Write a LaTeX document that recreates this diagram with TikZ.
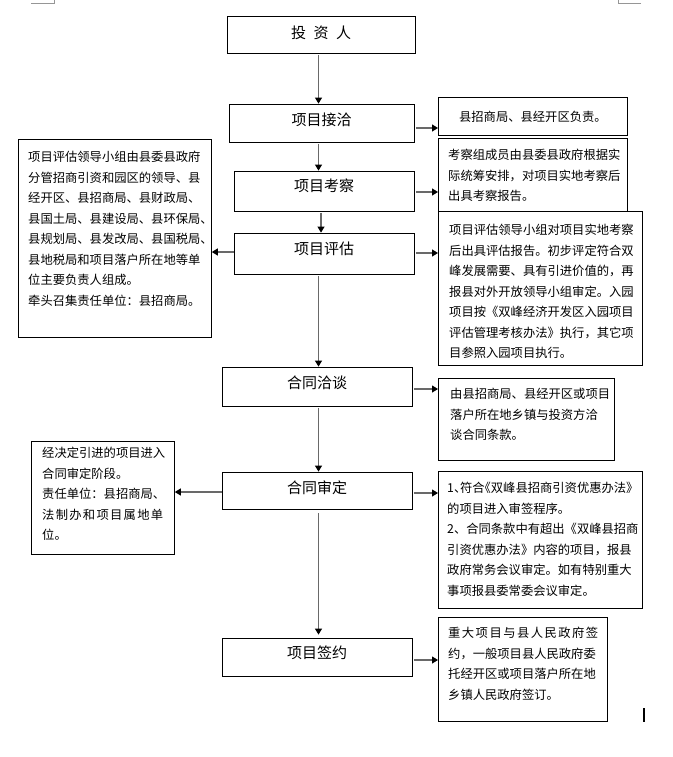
\documentclass[tikz,border=0pt]{standalone}
\usepackage{fontspec}
\setmainfont{Noto Sans CJK SC}
\usetikzlibrary{arrows.meta}
\definecolor{lgray}{RGB}{105,105,105}
\definecolor{mgray}{RGB}{150,150,150}
\begin{document}
\begin{tikzpicture}[x=1pt,y=-1pt,
  mainbox/.style={draw=black, line width=0.8pt, inner sep=0pt},
  maintext/.style={inner sep=0pt, font=\fontsize{15}{18}\selectfont},
  sidebox/.style={draw=black, line width=0.8pt, inner sep=0pt, anchor=north west},
  sidetext/.style={anchor=north west, inner sep=0pt, align=left, font=\fontsize{12.3}{20.5}\selectfont},
  arr/.style={draw=lgray, line width=1.1pt, shorten <=1.5pt, -{Triangle[length=6pt,width=7pt,color=black]}}
]
\useasboundingbox (0,0) rectangle (672,757);

% page corner marks and cursor
\draw[mgray, line width=0.6pt] (31,3) -- (54,3) -- (54,0);
\draw[mgray, line width=0.6pt] (641,3) -- (618,3) -- (618,0);
\fill[black] (642.5,708) rectangle (644.5,722);

\coordinate (colx) at (318.5,0);

% main column
\node[mainbox, minimum width=188pt, minimum height=37pt] (inv) at (321,34.5) {};
\node[maintext] (invt) at (321,33) {投\enspace 资\enspace 人};
\node[mainbox, minimum width=185pt, minimum height=38pt] (jq) at (321.5,123) {};
\node[maintext] (jqt) at (321.5,120) {项目接洽};
\node[mainbox, minimum width=180pt, minimum height=40pt] (kc) at (324,191) {};
\node[maintext] (kct) at (324,186) {项目考察};
\node[mainbox, minimum width=180pt, minimum height=41pt] (pg) at (324,253.5) {};
\node[maintext] (pgt) at (324,249) {项目评估};
\node[mainbox, minimum width=190pt, minimum height=39pt] (ht) at (317,386.5) {};
\node[maintext] (htt) at (317,383) {合同洽谈};
\node[mainbox, minimum width=190pt, minimum height=37pt] (sd) at (317,490.5) {};
\node[maintext] (sdt) at (317,488) {合同审定};
\node[mainbox, minimum width=190pt, minimum height=38pt] (qy) at (317,657) {};
\node[maintext] (qyt) at (317,653) {项目签约};

% right boxes
\node[sidebox, minimum width=189pt, minimum height=38pt] (r1) at (438,97) {};
\node[inner sep=0pt, font=\fontsize{12.3}{20.5}\selectfont] (r1t) at (r1.center) {县招商局、县经开区负责。};

\node[sidebox, minimum width=189pt, minimum height=73pt] (r2) at (438,138) {};
\node[sidetext] (r2t) at (448,149) {考察组成员由县委县政府根据实\\际统筹安排，对项目实地考察后\\出具考察报告。};

\node[sidebox, minimum width=204pt, minimum height=154pt] (r3) at (438,211) {};
\node[sidetext] (r3t) at (449,224) {项目评估领导小组对项目实地考察\\后出具评估报告。初步评定符合双\\峰发展需要、具有引进价值的，再\\报县对外开放领导小组审定。入园\\项目按《双峰经济开发区入园项目\\评估管理考核办法》执行，其它项\\目参照入园项目执行。};

\node[sidebox, minimum width=176pt, minimum height=82pt] (r4) at (438,378) {};
\node[sidetext] (r4t) at (450,388) {由县招商局、县经开区或项目\\落户所在地乡镇与投资方洽\\谈合同条款。};

\node[sidebox, minimum width=204pt, minimum height=137pt] (r5) at (438,471) {};
\node[sidetext] (r5t) at (447,482) {{\addfontfeature{RawFeature=+halt}1、符合《双峰县招商引资优惠办法》}\\的项目进入审签程序。\\2、合同条款中有超出《双峰县招商\\引资优惠办法》内容的项目，报县\\政府常务会议审定。如有特别重大\\事项报县委常委会议审定。};

\node[sidebox, minimum width=169pt, minimum height=104pt] (r6) at (438,617) {};
\node[sidetext] (r6t) at (448,627) {\hbox to 150pt{重\hfil 大\hfil 项\hfil 目\hfil 与\hfil 县\hfil 人\hfil 民\hfil 政\hfil 府\hfil 签}\\约，一般项目县人民政府委\\托经开区或项目落户所在地\\乡镇人民政府签订。};

% left boxes
\node[sidebox, minimum width=193pt, minimum height=198pt] (l1) at (18,139) {};
\node[sidetext] (l1t) at (28,151) {项目评估领导小组由县委县政府\\分管招商引资和园区的领导、县\\经开区、县招商局、县财政局、\\县国土局、县建设局、县环保局、\\县规划局、县发改局、县国税局、\\县地税局和项目落户所在地等单\\位主要负责人组成。\\牵头召集责任单位：县招商局。};

\node[sidebox, minimum width=143pt, minimum height=113pt] (l2) at (31,441) {};
\node[sidetext] (l2t) at (42,447) {经决定引进的项目进入\\合同审定阶段。\\责任单位：县招商局、\\\hbox to 121pt{法\hfil 制\hfil 办\hfil 和\hfil 项\hfil 目\hfil 属\hfil 地\hfil 单}\\位。};

% vertical connectors
\draw[arr] (inv.south -| colx) -- (jq.north -| colx);
\draw[arr] (jq.south -| colx) -- (kc.north -| colx);
\draw[arr] ([xshift=-3pt]pg.north |- kc.south) -- ([xshift=-3pt]pg.north);
\draw[arr] (pg.south -| colx) -- (ht.north -| colx);
\draw[arr] (ht.south -| colx) -- (sd.north -| colx);
\draw[arr, shorten <=4pt, shorten >=3pt] (sd.south -| colx) -- (qy.north -| colx);

% right connectors
\draw[arr] (jq.east |- 0,128) -- (r1.west |- 0,128);
\draw[arr] (kc.east |- 0,192) -- (r2.west |- 0,192);
\draw[arr] (pg.east |- 0,253) -- (r3.west |- 0,253);
\draw[arr] (ht.east |- 0,389) -- (r4.west |- 0,389);
\draw[arr] (sd.east |- 0,493) -- (r5.west |- 0,493);
\draw[arr] (qy.east |- 0,660) -- (r6.west |- 0,660);

% left connectors
\draw[arr, shorten <=0pt] (pg.west |- 0,252) -- (l1.east |- 0,252);
\draw[arr, shorten <=0pt] (sd.west |- 0,492) -- (l2.east |- 0,492);
\end{tikzpicture}
\end{document}
